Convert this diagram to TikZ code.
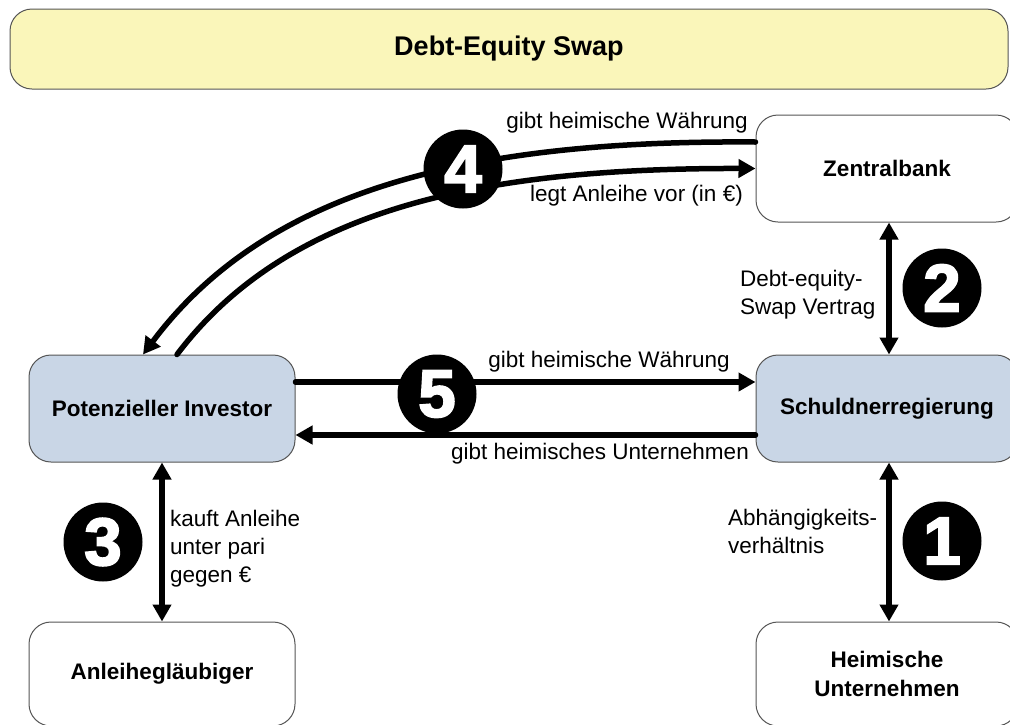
\documentclass[tikz,border=0pt]{standalone}
\usepackage{fontspec}
\setmainfont{Liberation Sans}
\newfontfamily\numfont[FakeBold=3]{Liberation Sans}
\usetikzlibrary{arrows.meta,calc}
\definecolor{titlefill}{HTML}{FAF6BA}
\definecolor{bluefill}{HTML}{C9D6E6}
\definecolor{boxline}{HTML}{555555}
\begin{document}
\begin{tikzpicture}[x=1pt,y=-1pt,
  box/.style={draw=boxline, line width=1pt, rounded corners=22pt, font=\bfseries\fontsize{22.5}{29}\selectfont, align=center, inner sep=0pt},
  num/.style={circle, fill=black, minimum size=79pt, inner sep=0pt, text=white, font=\numfont\bfseries\fontsize{67}{67}\selectfont},
  lbl/.style={font=\fontsize{22.5}{28}\selectfont, inner sep=0pt, align=left},
  conn/.style={line width=5.5pt, line cap=round, -{Triangle[length=17pt,width=18pt]}},
  dbl/.style={line width=5.5pt, {Triangle[length=17pt,width=18pt]}-{Triangle[length=17pt,width=18pt]}}]
\useasboundingbox (0,0) rectangle (1010,724);
\clip (0,0) rectangle (1010,724);
% boxes
\node[box, fill=titlefill, minimum width=998pt, minimum height=80pt, font=\bfseries\fontsize{27}{30}\selectfont] (title) at (509,49) {Debt-Equity Swap};
\node[box, fill=white, minimum width=262pt, minimum height=107pt] (zb) at (887,168.5) {Zentralbank};
\node[box, fill=bluefill, minimum width=262pt, minimum height=107pt] (sr) at (887,408.5) {Schuldnerregierung};
\node[box, fill=bluefill, minimum width=266pt, minimum height=107pt] (inv) at (162,408.5) {Potenzieller Investor};
\node[box, fill=white, minimum width=266pt, minimum height=104pt] (ag) at (162,674) {Anleihegläubiger};
\node[box, fill=white, minimum width=262pt, minimum height=104pt] (hu) at (887,674) {Heimische\\Unternehmen};
% connectors
\draw[conn] ($(zb.west)+(0,-26.5)$) .. controls (480,140) and (270,185) .. ($(inv.north)+(-19,0)$);
\draw[conn] ($(inv.north)+(15,0)$) .. controls (290,205) and (490,168) .. (zb.west);
\draw[conn] ($(inv.east)+(0,-26.5)$) -- ($(sr.west)+(0,-26.5)$);
\draw[conn] ($(sr.west)+(0,26.5)$) -- ($(inv.east)+(0,26.5)$);
\draw[dbl] ($(zb.south)+(2,0)$) -- ($(sr.north)+(2,0)$);
\draw[dbl] ($(sr.south)+(2,0)$) -- ($(hu.north)+(2,0)$);
\draw[dbl] (inv.south) -- (ag.north);
% numbers
\node[num] (n4) at (463,169) {4};
\node[num] (n5) at (437,394) {5};
\node[num] (n3) at (103,542) {3};
\node[num] (n1) at (942,541) {1};
\node[num] (n2) at (942,288) {2};
% labels
\node[lbl, anchor=east] (l4a) at (748,123) {gibt heimische Währung};
\node[lbl, anchor=east] (l4b) at (743,196) {legt Anleihe vor (in €)};
\node[lbl, anchor=west] (l2) at (740,295) {Debt-equity-\\Swap Vertrag};
\node[lbl] (l5a) at (609,362) {gibt heimische Währung};
\node[lbl] (l5b) at (600,454) {gibt heimisches Unternehmen};
\node[lbl, anchor=west] (l1) at (728,531) {Abhängigkeits-\\verhältnis};
\node[lbl, anchor=west] (l3) at (170,549) {kauft Anleihe\\unter pari\\gegen €};
\end{tikzpicture}
\end{document}
